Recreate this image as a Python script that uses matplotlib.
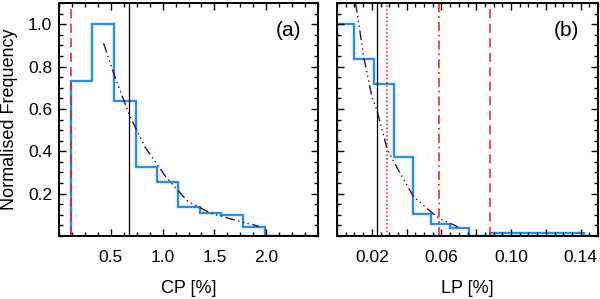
import matplotlib
matplotlib.use("Agg")
import matplotlib.pyplot as plt
from matplotlib.ticker import MultipleLocator, FixedLocator

# ---------------------------------------------------------------------------
# Data
# ---------------------------------------------------------------------------

# (a) CP histogram
cp_edges = [0.115, 0.32, 0.53, 0.74, 0.945, 1.15, 1.36, 1.56, 1.78, 1.99, 2.5]
cp_freq = [0.732, 1.0, 0.637, 0.326, 0.255, 0.137, 0.11, 0.097, 0.043, 0.0]
# fitted curve (a)
cp_fit_x = [0.43, 0.54, 0.68, 0.83, 1.03, 1.24, 1.47, 1.70, 1.93]
cp_fit_y = [0.91, 0.75, 0.57, 0.42, 0.28, 0.165, 0.106, 0.075, 0.046]
cp_dashed = 0.115   # red dashed
cp_solid = 0.68     # black solid
cp_ticks = [0.5, 1.0, 1.5, 2.0]
cp_ticklabels = ["0.5", "1.0", "1.5", "2.0"]

# (b) LP histogram
lp_edges = [0.0, 0.010, 0.0215, 0.0325, 0.0436, 0.054, 0.065, 0.076, 0.088, 0.142, 0.15]
lp_freq = [1.0, 0.834, 0.717, 0.374, 0.106, 0.055, 0.040, 0.0, 0.016, 0.0]
# fitted curve (b)
lp_fit_x = [0.0107, 0.0156, 0.020, 0.0229, 0.029, 0.0354, 0.044, 0.055, 0.0584, 0.0696]
lp_fit_y = [1.10, 0.835, 0.66, 0.595, 0.405, 0.31, 0.185, 0.107, 0.084, 0.043]
lp_solid = 0.0229    # black solid
lp_dotted = 0.029    # red dotted
lp_dashdot = 0.0584  # red dash-dot
lp_dashed = 0.088    # red dashed
lp_ticks = [0.02, 0.04, 0.06, 0.08, 0.10, 0.12, 0.14]
lp_ticklabels = ["0.02", "", "0.06", "", "0.10", "", "0.14"]

y_ticks = [0.2, 0.4, 0.6, 0.8, 1.0]
y_ticklabels = ["0.2", "0.4", "0.6", "0.8", "1.0"]

# ---------------------------------------------------------------------------
# Style
# ---------------------------------------------------------------------------

C_HIST = "#2590e6"
C_RED = "#d8232a"
C_FIT = "#3a0a4e"
FIT_DASH = (0, (7, 2.5, 1, 2.5, 1, 2.5, 1, 2.5))

plt.rcParams["font.family"] = ["Liberation Sans", "DejaVu Sans"]
plt.rcParams["font.size"] = 12.5

fig = plt.figure(figsize=(6.0, 2.99), dpi=100)
ax_a = fig.add_axes([59 / 600, 63 / 299, 259 / 600, 233 / 299])
ax_b = fig.add_axes([337 / 600, 63 / 299, 261 / 600, 233 / 299])


def style_axis(ax, xlim, xminor):
    ax.set_xlim(*xlim)
    ax.set_ylim(0, 1.1)
    for sp in ax.spines.values():
        sp.set_linewidth(1.4)
    ax.xaxis.set_minor_locator(MultipleLocator(xminor))
    ax.yaxis.set_minor_locator(MultipleLocator(0.05))
    ax.tick_params(which="both", direction="in", top=True, right=True,
                   width=1.0, colors="black")
    ax.tick_params(which="major", length=5)
    ax.tick_params(which="minor", length=2.7)
    ax.tick_params(axis="x", which="major", pad=10, labelsize=12.5)
    ax.tick_params(axis="y", which="major", pad=5, labelsize=12.5)


# (a)
style_axis(ax_a, (0, 2.5), 0.125)
ax_a.stairs(cp_freq, cp_edges, baseline=0, color=C_HIST, linewidth=1.7)
ax_a.plot(cp_fit_x, cp_fit_y, color=C_FIT, linewidth=1.0, linestyle=FIT_DASH)
ax_a.axvline(cp_dashed, color=C_RED, linewidth=1.1, linestyle=(0, (6, 3.5)))
ax_a.axvline(cp_solid, color="black", linewidth=0.9)
ax_a.xaxis.set_major_locator(FixedLocator(cp_ticks))
ax_a.set_xticklabels(cp_ticklabels)
ax_a.yaxis.set_major_locator(FixedLocator(y_ticks))
ax_a.set_yticklabels(y_ticklabels)
ax_a.text(0.885, 0.88, "(a)", transform=ax_a.transAxes, fontsize=15,
          ha="center", va="center")
ax_a.set_xlabel("CP [%]", fontsize=13)
ax_a.xaxis.set_label_coords(0.5, -0.19)

# (b)
style_axis(ax_b, (0, 0.15), 0.005)
ax_b.stairs(lp_freq, lp_edges, baseline=0, color=C_HIST, linewidth=1.7)
ax_b.plot(lp_fit_x, lp_fit_y, color=C_FIT, linewidth=1.0, linestyle=FIT_DASH)
ax_b.axvline(lp_solid, color="black", linewidth=0.9)
ax_b.axvline(lp_dotted, color=C_RED, linewidth=1.1, linestyle=(0, (1, 1.5)))
ax_b.axvline(lp_dashdot, color=C_RED, linewidth=1.1, linestyle=(0, (6, 2.5, 1.2, 2.5)))
ax_b.axvline(lp_dashed, color=C_RED, linewidth=1.1, linestyle=(0, (6, 3.5)))
ax_b.xaxis.set_major_locator(FixedLocator(lp_ticks))
ax_b.set_xticklabels(lp_ticklabels)
ax_b.yaxis.set_major_locator(FixedLocator(y_ticks))
ax_b.set_yticklabels([])
ax_b.text(0.88, 0.88, "(b)", transform=ax_b.transAxes, fontsize=15,
          ha="center", va="center")
ax_b.set_xlabel("LP [%]", fontsize=13)
ax_b.xaxis.set_label_coords(0.5, -0.19)

fig.text(9.5 / 600, 1 - 119.5 / 299, "Normalised Frequency", rotation=90,
         ha="center", va="center", fontsize=13)

fig.savefig("out.png", dpi=100)
